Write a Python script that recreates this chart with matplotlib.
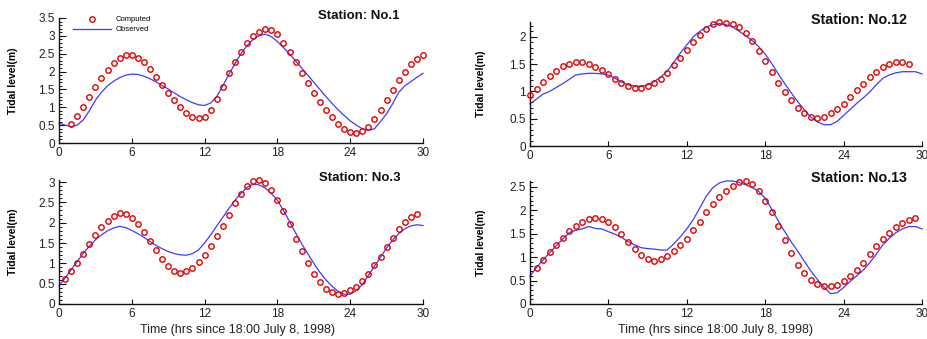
import numpy as np
import matplotlib
matplotlib.use("Agg")
import matplotlib.pyplot as plt
from matplotlib.ticker import MultipleLocator
from matplotlib.lines import Line2D

plt.rcParams['font.family'] = ['Liberation Sans', 'DejaVu Sans']

# ---------------- data ----------------
hours_obs = np.arange(0, 30.01, 0.5)

# Station No.1
comp1_t = np.arange(1.0, 30.01, 0.5)
comp1 = [0.53, 0.76, 1.01, 1.29, 1.58, 1.83, 2.05, 2.25, 2.38, 2.47, 2.47, 2.39, 2.26, 2.06,
         1.85, 1.63, 1.41, 1.20, 1.01, 0.85, 0.73, 0.69, 0.74, 0.92, 1.22, 1.58, 1.95, 2.27,
         2.55, 2.80, 3.00, 3.12, 3.19, 3.16, 3.04, 2.81, 2.54, 2.26, 1.97, 1.68, 1.40, 1.15,
         0.92, 0.72, 0.53, 0.40, 0.32, 0.29, 0.34, 0.45, 0.68, 0.93, 1.21, 1.49, 1.76, 2.00,
         2.21, 2.36, 2.46]
obs1 = [0.56, 0.50, 0.46, 0.50, 0.65, 0.90, 1.20, 1.42, 1.60, 1.73, 1.83, 1.90, 1.93, 1.92,
        1.87, 1.80, 1.71, 1.61, 1.51, 1.40, 1.30, 1.21, 1.13, 1.07, 1.05, 1.12, 1.30, 1.60,
        1.92, 2.22, 2.50, 2.73, 2.90, 3.01, 3.05, 2.98, 2.84, 2.67, 2.49, 2.30, 2.10, 1.90,
        1.70, 1.50, 1.30, 1.11, 0.93, 0.77, 0.62, 0.50, 0.40, 0.35, 0.40, 0.60, 0.82, 1.10,
        1.42, 1.60, 1.72, 1.84, 1.95]

# Station No.3
comp3_t = np.arange(0.5, 29.51, 0.5)
comp3 = [0.61, 0.80, 1.01, 1.24, 1.47, 1.69, 1.89, 2.05, 2.17, 2.24, 2.21, 2.12, 1.97, 1.77,
         1.55, 1.33, 1.11, 0.93, 0.81, 0.77, 0.80, 0.89, 1.03, 1.21, 1.43, 1.67, 1.92, 2.19,
         2.48, 2.71, 2.90, 3.02, 3.06, 2.97, 2.80, 2.57, 2.28, 1.96, 1.61, 1.30, 1.00, 0.74,
         0.53, 0.38, 0.29, 0.25, 0.27, 0.34, 0.43, 0.57, 0.75, 0.95, 1.16, 1.40, 1.63, 1.84,
         2.02, 2.14, 2.22]
obs3 = [0.45, 0.64, 0.84, 1.04, 1.25, 1.42, 1.58, 1.70, 1.80, 1.87, 1.91, 1.88, 1.81, 1.73,
        1.64, 1.54, 1.44, 1.36, 1.29, 1.24, 1.21, 1.20, 1.24, 1.33, 1.50, 1.70, 1.92, 2.13,
        2.35, 2.55, 2.72, 2.87, 2.95, 2.93, 2.85, 2.72, 2.55, 2.30, 2.03, 1.75, 1.48, 1.24,
        1.00, 0.78, 0.59, 0.44, 0.31, 0.24, 0.24, 0.33, 0.48, 0.70, 0.93, 1.15, 1.38, 1.57,
        1.73, 1.85, 1.92, 1.95, 1.93]

# Station No.12
comp12_t = np.arange(0.0, 29.01, 0.5)
comp12 = [0.93, 1.04, 1.18, 1.29, 1.38, 1.46, 1.51, 1.53, 1.53, 1.50, 1.45, 1.39, 1.32, 1.23,
          1.16, 1.10, 1.07, 1.07, 1.10, 1.15, 1.23, 1.34, 1.48, 1.61, 1.75, 1.90, 2.03, 2.14,
          2.23, 2.27, 2.26, 2.24, 2.18, 2.06, 1.93, 1.74, 1.55, 1.35, 1.16, 0.99, 0.84, 0.70,
          0.60, 0.54, 0.52, 0.54, 0.60, 0.67, 0.77, 0.89, 1.02, 1.14, 1.26, 1.36, 1.45, 1.50,
          1.53, 1.53, 1.51]
obs12 = [0.77, 0.86, 0.95, 1.00, 1.07, 1.14, 1.22, 1.30, 1.32, 1.33, 1.33, 1.32, 1.30, 1.24,
         1.17, 1.12, 1.10, 1.09, 1.12, 1.18, 1.26, 1.37, 1.53, 1.70, 1.85, 2.00, 2.10, 2.18,
         2.22, 2.24, 2.22, 2.18, 2.10, 2.02, 1.93, 1.82, 1.68, 1.51, 1.32, 1.14, 0.97, 0.81,
         0.66, 0.53, 0.44, 0.39, 0.39, 0.45, 0.56, 0.67, 0.78, 0.88, 0.99, 1.12, 1.24, 1.30,
         1.34, 1.36, 1.36, 1.36, 1.32]

# Station No.13
comp13_t = np.arange(0.5, 29.51, 0.5)
comp13 = [0.76, 0.93, 1.10, 1.25, 1.40, 1.55, 1.66, 1.75, 1.81, 1.83, 1.81, 1.75, 1.64, 1.49,
          1.32, 1.17, 1.04, 0.96, 0.92, 0.96, 1.02, 1.12, 1.25, 1.39, 1.57, 1.75, 1.95, 2.12,
          2.27, 2.41, 2.51, 2.59, 2.61, 2.55, 2.41, 2.20, 1.95, 1.66, 1.37, 1.08, 0.84, 0.66,
          0.52, 0.43, 0.39, 0.39, 0.41, 0.49, 0.59, 0.72, 0.88, 1.06, 1.23, 1.38, 1.52, 1.64,
          1.72, 1.78, 1.83]
obs13 = [0.59, 0.78, 0.94, 1.09, 1.24, 1.38, 1.52, 1.57, 1.60, 1.65, 1.61, 1.60, 1.54, 1.49,
         1.42, 1.33, 1.26, 1.20, 1.18, 1.17, 1.15, 1.15, 1.28, 1.43, 1.60, 1.80, 2.05, 2.30,
         2.48, 2.58, 2.62, 2.62, 2.59, 2.54, 2.48, 2.40, 2.25, 2.02, 1.77, 1.54, 1.32, 1.12,
         0.91, 0.70, 0.52, 0.36, 0.22, 0.24, 0.35, 0.48, 0.60, 0.72, 0.88, 1.06, 1.26, 1.40,
         1.52, 1.60, 1.65, 1.65, 1.60]

x_ticks = [0, 6, 12, 18, 24, 30]
station_titles = ["Station: No.1", "Station: No.3", "Station: No.12", "Station: No.13"]
ylabel = "Tidal level(m)"
xlabel = "Time (hrs since 18:00 July 8, 1998)"

# ---------------- figure ----------------
W, H = 928, 339
fig = plt.figure(figsize=(W / 100, H / 100), dpi=100)

def px_axes(x0, x1, ytop, ybot):
    return fig.add_axes([x0 / W, 1 - ybot / H, (x1 - x0) / W, (ybot - ytop) / H])

panels = [
    dict(rect=(59, 423, 18, 143), ylim=3.5, t=comp1_t, c=comp1, o=obs1, title=station_titles[0],
         ttl=(400, 16), tsize=9.5),
    dict(rect=(59, 423, 180, 304), ylim=3.05, t=comp3_t, c=comp3, o=obs3, title=station_titles[1],
         ttl=(401, 178), tsize=9.5),
    dict(rect=(530, 922, 22, 146), ylim=2.27, t=comp12_t, c=comp12, o=obs12, title=station_titles[2],
         ttl=(907, 20), tsize=10.3),
    dict(rect=(530, 922, 181, 304), ylim=2.62, t=comp13_t, c=comp13, o=obs13, title=station_titles[3],
         ttl=(907, 178), tsize=10.3),
]

blue = '#3c3cff'
red = '#e00000'
MS = 3.9
axes = []
for i, p in enumerate(panels):
    x0, x1, yt, yb = p['rect']
    ax = px_axes(x0, x1, yt, yb)
    axes.append(ax)
    ax.plot(hours_obs, p['o'], color=blue, lw=0.9, zorder=2, clip_on=False)
    ax.plot(p['t'], p['c'], 'o', ms=MS, mfc='none', mec=red, mew=1.0, zorder=3, clip_on=False)
    ax.set_xlim(0, 30)
    ax.set_ylim(0, p['ylim'])
    ax.set_xticks(x_ticks)
    ax.yaxis.set_major_locator(MultipleLocator(0.5))
    ax.yaxis.set_minor_locator(MultipleLocator(0.1))
    ax.yaxis.set_major_formatter(plt.FuncFormatter(lambda v, pos: ('%g' % round(v, 2))))
    for s in ['top', 'right']:
        ax.spines[s].set_visible(False)
    for s in ['left', 'bottom']:
        ax.spines[s].set_linewidth(1.0)
        ax.spines[s].set_color('#111111')
    ax.tick_params(axis='y', which='major', direction='in', length=5, width=0.8, labelsize=8.5,
                   pad=3, colors='#111111', labelcolor='#222222')
    ax.tick_params(axis='y', which='minor', direction='in', length=2.5, width=0.7, colors='#111111')
    ax.tick_params(axis='x', which='major', direction='in', length=3.5, width=0.8, labelsize=8.5,
                   pad=3, colors='#111111', labelcolor='#222222')
    ax.patch.set_alpha(0)
    ax.set_ylabel(ylabel, fontsize=7.5, fontweight='bold', labelpad=4)
    tx, ty = p['ttl']
    fig.text(tx / W, 1 - ty / H, p['title'], ha='right', va='center', fontsize=p['tsize'],
             fontweight='bold', color='#111111')

# y-label positions
for ax, xp in zip(axes, [18, 18, 486, 486]):
    ax.yaxis.set_label_coords((xp - ax.get_position().x0 * W) / (ax.get_position().width * W), 0.5)

# x labels
for cx in [238, 716]:
    fig.text(cx / W, 1 - 330 / H, xlabel, ha='center', va='center', fontsize=9,
             color='#222222')

# legend in first panel
ax0 = axes[0]
h_c = Line2D([], [], ls='none', marker='o', ms=MS, mfc='none', mec=red, mew=1.0)
h_o = Line2D([], [], color=blue, lw=0.9)
ax0.legend([h_c, h_o], ['Computed', 'Observed'], loc='upper left', bbox_to_anchor=(0.02, 1.07),
           frameon=False, fontsize=5.5, handlelength=5.0, handletextpad=0.6, labelspacing=0.35)

fig.savefig('out.png', dpi=100)
